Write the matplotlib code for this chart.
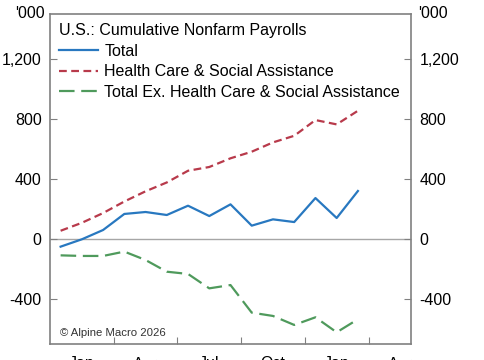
import matplotlib
matplotlib.use("Agg")
import matplotlib.pyplot as plt
import numpy as np

plt.rcParams['font.family'] = ['Liberation Sans', 'DejaVu Sans']

months = ["Jan 2025", "Feb 2025", "Mar 2025", "Apr 2025", "May 2025", "Jun 2025",
          "Jul 2025", "Aug 2025", "Sep 2025", "Oct 2025", "Nov 2025", "Dec 2025",
          "Jan 2026", "Feb 2026", "Mar 2026"]
total = [-51, -2, 60, 167, 180, 160, 222, 153, 231, 89, 131, 113, 273, 140, 320]
health = [55, 108, 173, 250, 318, 377, 455, 480, 538, 582, 644, 688, 793, 764, 855]
ex_health = [-109, -113, -113, -84, -140, -218, -233, -329, -307, -491, -513, -573, -522, -622, -535]
quarter_labels = ["Jan", "Apr", "Jul", "Oct", "Jan", "Apr"]
yticks = [-400, 0, 400, 800, 1200]

fig = plt.figure(figsize=(4.85, 3.6), dpi=100)
ax = fig.add_axes([50/485, 1-344/360, (411-50)/485, (344-14)/360])

x = np.arange(len(months))
ax.axhline(0, color='#a6a6a6', lw=1.0, zorder=1)
ax.plot(x, total, color='#2878c0', lw=1.6, label='Total', zorder=3)
ax.plot(x, health, color='#b83a4b', lw=1.6, dashes=(3.5, 2), label='Health Care & Social Assistance', zorder=3)
ax.plot(x, ex_health, color='#4f9a5c', lw=1.6, dashes=(7, 3), label='Total Ex. Health Care & Social Assistance', zorder=3)

ax.set_xlim(-0.5, 16.5)
ax.set_ylim(-700, 1500)

# quarter boundary ticks
ax.set_xticks([2.5, 5.5, 8.5, 11.5, 14.5])
ax.set_xticklabels([])
ax.set_xticks([1, 4, 7, 10, 13, 16], minor=True)
ax.set_xticklabels(quarter_labels, minor=True)
ax.tick_params(axis='x', which='major', direction='in', length=5, color='#808080')
ax.tick_params(axis='x', which='minor', length=0, pad=9, labelsize=11.5)

ax.set_yticks(yticks)
ax.set_yticklabels([f"{v:,}" for v in yticks])
ax.tick_params(axis='y', which='major', direction='in', length=5, color='#808080',
               labelsize=11.5, right=True, labelright=True, pad=6)

for s in ax.spines.values():
    s.set_color('#808080')
    s.set_linewidth(1.2)

fig.text(45/485, 1-14/360, "'000", ha='right', va='center', fontsize=11.5)
fig.text(418/485, 1-14/360, "'000", ha='left', va='center', fontsize=11.5)

leg = ax.legend(loc='upper left', bbox_to_anchor=(0.0, 1.0), frameon=False,
                title='U.S.: Cumulative Nonfarm Payrolls', title_fontsize=11.5,
                fontsize=11.5, handlelength=2.45, handletextpad=0.4,
                labelspacing=0.36, borderaxespad=0.25, borderpad=0.3)
leg._legend_box.align = 'left'

ax.text(0.028, 11/330, '\u00a9 Alpine Macro 2026', transform=ax.transAxes,
        fontsize=8.2, color='#333333', ha='left', va='center')

fig.savefig('out.png', dpi=100)
